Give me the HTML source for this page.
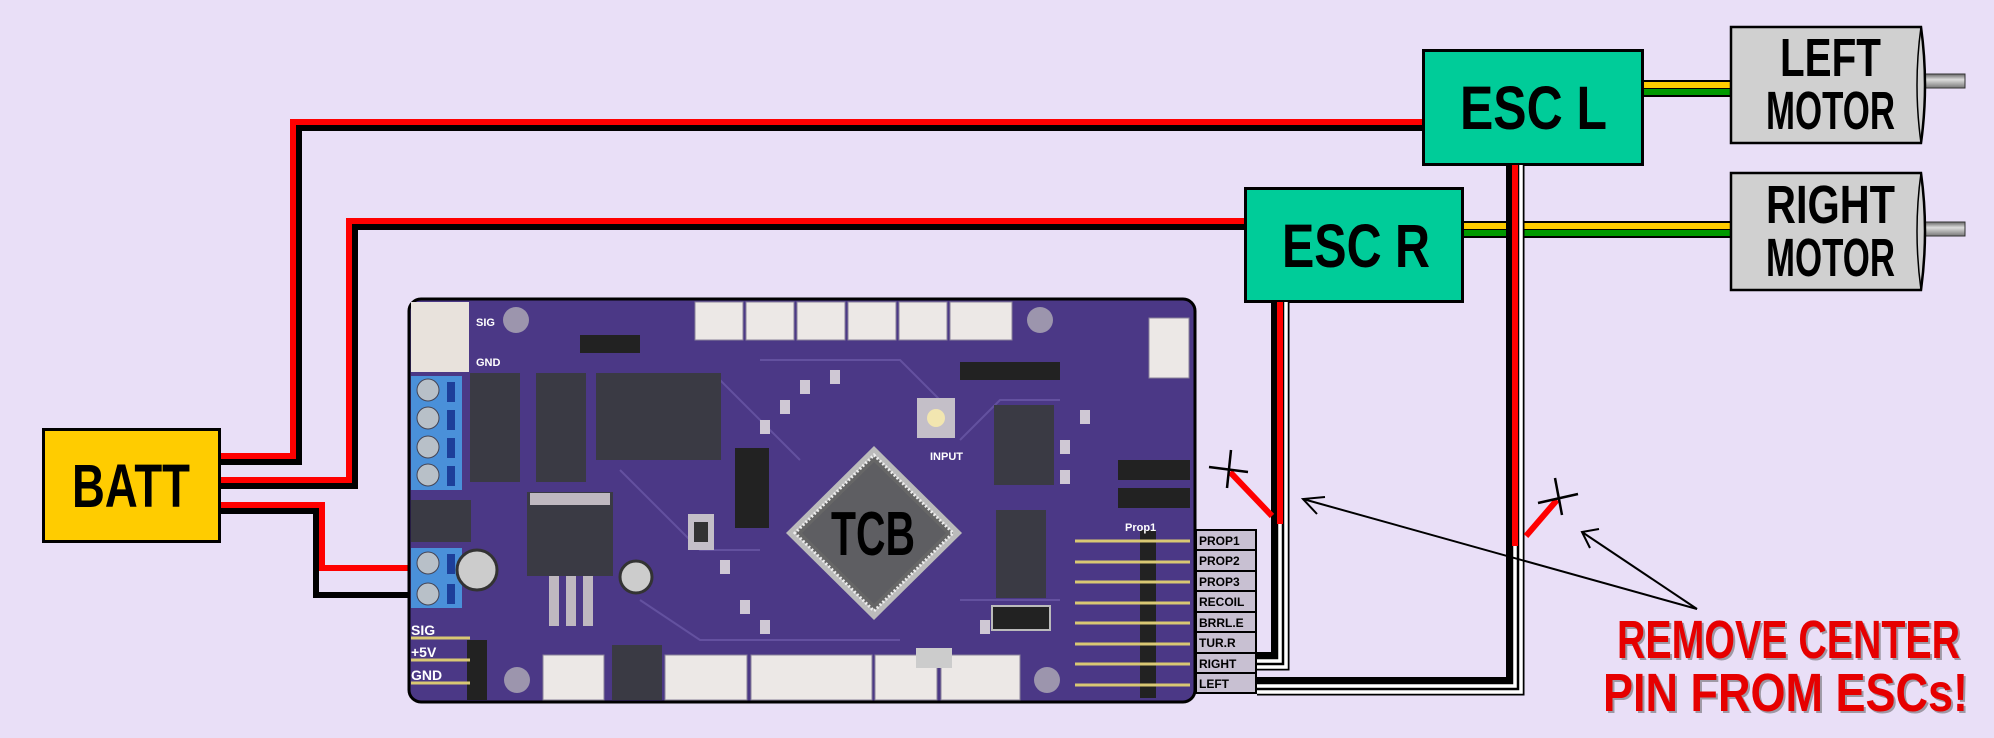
<!DOCTYPE html>
<html><head><meta charset="utf-8"><style>
html,body{margin:0;padding:0;background:#e9dff7;}
svg{display:block;}
text{font-family:"Liberation Sans",sans-serif;font-weight:bold;}
</style></head><body>
<svg width="1994" height="738" viewBox="0 0 1994 738" xmlns="http://www.w3.org/2000/svg">
<rect width="1994" height="738" fill="#e9dff7"/>

<g fill="none" stroke-width="6" stroke-linejoin="miter">
<polyline points="221,456 293,456 293,122 1422,122" stroke="#ff0000"/>
<polyline points="221,462 299,462 299,128 1422,128" stroke="#000"/>
<polyline points="221,480 349,480 349,221 1244,221" stroke="#ff0000"/>
<polyline points="221,486 355,486 355,227 1244,227" stroke="#000"/>
<polyline points="221,505 322,505 322,568 410,568" stroke="#ff0000"/>
<polyline points="221,511 316,511 316,595 410,595" stroke="#000"/>
</g>

<rect x="1643" y="80" width="87" height="17" fill="#000"/>
<rect x="1643" y="82" width="87" height="6" fill="#ffcc00"/>
<rect x="1643" y="89" width="87" height="6" fill="#009900"/>
<rect x="1464" y="221" width="266" height="17" fill="#000"/>
<rect x="1464" y="223" width="266" height="6" fill="#ffcc00"/>
<rect x="1464" y="230" width="266" height="6" fill="#009900"/>

<rect x="43.5" y="429.5" width="176" height="112" fill="#ffcc00" stroke="#000" stroke-width="3"/>
<text x="72" y="507" font-size="61" textLength="118" lengthAdjust="spacingAndGlyphs">BATT</text>

<rect x="1423.5" y="50.5" width="219" height="114" fill="#00cc99" stroke="#000" stroke-width="3"/>
<text x="1460" y="129" font-size="61" textLength="147" lengthAdjust="spacingAndGlyphs">ESC  L</text>
<rect x="1245.5" y="188.5" width="217" height="113" fill="#00cc99" stroke="#000" stroke-width="3"/>
<text x="1282" y="267" font-size="61" textLength="148" lengthAdjust="spacingAndGlyphs">ESC  R</text>

<defs>
<linearGradient id="sh" x1="0" y1="0" x2="0" y2="1">
<stop offset="0" stop-color="#666"/><stop offset="0.4" stop-color="#ddd"/><stop offset="1" stop-color="#777"/>
</linearGradient>
</defs>
<rect x="1924" y="74" width="41" height="14" fill="url(#sh)" stroke="#333" stroke-width="1"/>
<rect x="1924" y="222" width="41" height="14" fill="url(#sh)" stroke="#333" stroke-width="1"/>
<path d="M1731,27 H1921 Q1929,85 1921,143 H1731 Z" fill="#d0d0d0" stroke="#000" stroke-width="2.5"/>
<path d="M1921,27 Q1913,85 1921,143" fill="none" stroke="#000" stroke-width="1.5"/>
<path d="M1731,173 H1921 Q1929,231 1921,290 H1731 Z" fill="#d0d0d0" stroke="#000" stroke-width="2.5"/>
<path d="M1921,173 Q1913,231 1921,290" fill="none" stroke="#000" stroke-width="1.5"/>
<text x="1780" y="76" font-size="54" textLength="101" lengthAdjust="spacingAndGlyphs">LEFT</text>
<text x="1766" y="129" font-size="54" textLength="129" lengthAdjust="spacingAndGlyphs">MOTOR</text>
<text x="1766" y="223" font-size="54" textLength="129" lengthAdjust="spacingAndGlyphs">RIGHT</text>
<text x="1766" y="276" font-size="54" textLength="129" lengthAdjust="spacingAndGlyphs">MOTOR</text>

<!-- TCB board -->
<rect x="409" y="299" width="786" height="403" rx="12" fill="#4b3886" stroke="#000" stroke-width="3"/>
<g fill="none" stroke="#6a58a6" stroke-width="2" opacity="0.8">
<path d="M620,470 L700,550 L760,550"/><path d="M720,380 L800,460"/><path d="M960,440 L1000,400 L1060,400"/>
<path d="M640,600 L700,640 L900,640"/><path d="M960,600 L1060,600"/><path d="M760,360 L900,360 L940,400"/>
</g>
<g fill="#cfc8d4">
<rect x="760" y="420" width="10" height="14"/><rect x="780" y="400" width="10" height="14"/><rect x="800" y="380" width="10" height="14"/><rect x="830" y="370" width="10" height="14"/>
<rect x="720" y="560" width="10" height="14"/><rect x="740" y="600" width="10" height="14"/><rect x="760" y="620" width="10" height="14"/><rect x="980" y="620" width="10" height="14"/>
<rect x="1060" y="440" width="10" height="14"/><rect x="1060" y="470" width="10" height="14"/><rect x="1080" y="410" width="10" height="14"/>
</g>
<rect x="411" y="302" width="58" height="70" fill="#e8e2dc"/>
<rect x="411" y="376" width="51" height="114" fill="#4a90d9"/>
<rect x="411" y="548" width="51" height="60" fill="#4a90d9"/>
<g fill="#b8c0c8" stroke="#445" stroke-width="1">
<circle cx="428" cy="390" r="11"/><circle cx="428" cy="418" r="11"/><circle cx="428" cy="447" r="11"/><circle cx="428" cy="475" r="11"/>
<circle cx="428" cy="563" r="11"/><circle cx="428" cy="594" r="11"/>
</g>
<g fill="#1d3f9a"><rect x="447" y="382" width="8" height="20"/><rect x="447" y="410" width="8" height="20"/><rect x="447" y="438" width="8" height="20"/><rect x="447" y="466" width="8" height="20"/><rect x="447" y="554" width="8" height="20"/><rect x="447" y="584" width="8" height="20"/></g>
<g fill="#9c95ad"><circle cx="516" cy="320" r="13"/><circle cx="1040" cy="320" r="13"/><circle cx="517" cy="680" r="13"/><circle cx="1047" cy="680" r="13"/></g>
<g fill="#3a3a44">
<rect x="470" y="373" width="50" height="28"/><rect x="470" y="400" width="50" height="28"/><rect x="470" y="427" width="50" height="28"/><rect x="470" y="454" width="50" height="28"/>
<rect x="536" y="373" width="50" height="28"/><rect x="536" y="400" width="50" height="28"/><rect x="536" y="427" width="50" height="28"/><rect x="536" y="454" width="50" height="28"/>
<rect x="596" y="373" width="125" height="87"/>
<rect x="411" y="500" width="60" height="42"/>
<rect x="527" y="492" width="86" height="84"/>
<rect x="612" y="645" width="50" height="55"/>
<rect x="996" y="510" width="50" height="88"/>
<rect x="994" y="405" width="60" height="80"/>
</g>
<g fill="#bfb8c0"><rect x="530" y="493" width="80" height="12"/><rect x="549" y="576" width="10" height="50"/><rect x="566" y="576" width="10" height="50"/><rect x="583" y="576" width="10" height="50"/></g>
<circle cx="477" cy="570" r="20" fill="#ccc" stroke="#333" stroke-width="3"/>
<circle cx="636" cy="577" r="16" fill="#ccc" stroke="#333" stroke-width="3"/>
<g fill="#ece8e6" stroke="#8a8299" stroke-width="1">
<rect x="695" y="302" width="48" height="38"/><rect x="746" y="302" width="48" height="38"/><rect x="797" y="302" width="48" height="38"/><rect x="848" y="302" width="48" height="38"/><rect x="899" y="302" width="48" height="38"/><rect x="950" y="302" width="62" height="38"/>
<rect x="543" y="655" width="61" height="45"/><rect x="665" y="655" width="82" height="45"/><rect x="751" y="655" width="121" height="45"/><rect x="875" y="655" width="62" height="45"/><rect x="941" y="655" width="79" height="45"/>
<rect x="1149" y="318" width="40" height="60"/>
</g>
<rect x="917" y="398" width="38" height="40" fill="#c4bfc8"/><circle cx="936" cy="418" r="9" fill="#f2e6b0"/>
<rect x="688" y="514" width="26" height="36" fill="#c4bfc8"/><rect x="694" y="522" width="14" height="20" fill="#333"/>
<rect x="992" y="606" width="58" height="24" fill="#222" stroke="#bbb" stroke-width="2"/>
<rect x="916" y="648" width="36" height="20" fill="#ccc"/>
<g fill="#222"><rect x="735" y="448" width="34" height="80"/><rect x="960" y="362" width="100" height="18"/><rect x="1118" y="460" width="72" height="20"/><rect x="1118" y="488" width="72" height="20"/><rect x="1140" y="530" width="16" height="168"/><rect x="580" y="335" width="60" height="18"/><rect x="467" y="640" width="20" height="60"/></g>
<g stroke="#d9c873" stroke-width="3">
<line x1="1075" y1="541" x2="1190" y2="541"/><line x1="1075" y1="562" x2="1190" y2="562"/><line x1="1075" y1="582" x2="1190" y2="582"/><line x1="1075" y1="603" x2="1190" y2="603"/><line x1="1075" y1="623" x2="1190" y2="623"/><line x1="1075" y1="644" x2="1190" y2="644"/><line x1="1075" y1="664" x2="1190" y2="664"/><line x1="1075" y1="685" x2="1190" y2="685"/>
<line x1="411" y1="638" x2="470" y2="638"/><line x1="411" y1="660" x2="470" y2="660"/><line x1="411" y1="683" x2="470" y2="683"/>
</g>
<g fill="#fff" font-size="14"><text x="411" y="635">SIG</text><text x="411" y="657">+5V</text><text x="411" y="680">GND</text></g>
<g fill="#fff" font-size="11"><text x="476" y="326">SIG</text><text x="476" y="366">GND</text><text x="1125" y="531">Prop1</text><text x="930" y="460">INPUT</text></g>

<polygon points="874,446 962,533 874,620 786,533" fill="#bbb"/>
<polygon points="874,455 953,533 874,611 795,533" fill="#666" stroke="#eee" stroke-width="3" stroke-dasharray="2 2"/>
<polygon points="874,462 946,533 874,604 802,533" fill="#5e5e62"/>
<text x="831" y="555" font-size="62" textLength="84" lengthAdjust="spacingAndGlyphs">TCB</text>

<g stroke="#000" stroke-width="2" fill="#c8c0d2">
<rect x="1196" y="530" width="60" height="20"/><rect x="1196" y="550" width="60" height="21"/><rect x="1196" y="571" width="60" height="20"/><rect x="1196" y="591" width="60" height="21"/><rect x="1196" y="612" width="60" height="20"/><rect x="1196" y="632" width="60" height="21"/><rect x="1196" y="653" width="60" height="20"/><rect x="1196" y="673" width="60" height="20"/>
</g>
<g font-size="12" fill="#000">
<text x="1199" y="545">PROP1</text><text x="1199" y="565">PROP2</text><text x="1199" y="586">PROP3</text><text x="1199" y="606">RECOIL</text><text x="1199" y="627">BRRL.E</text><text x="1199" y="647">TUR.R</text><text x="1199" y="668">RIGHT</text><text x="1199" y="688">LEFT</text>
</g>

<g fill="none" stroke-linejoin="miter">
<polyline points="1286,302 1286,667 1257,667" stroke="#000" stroke-width="7"/>
<polyline points="1286,302 1286,667 1257,667" stroke="#fff" stroke-width="3.5"/>
<polyline points="1280,523 1280,661 1257,661" stroke="#000" stroke-width="7"/>
<polyline points="1280,523 1280,661 1257,661" stroke="#fff" stroke-width="3.5"/>
<line x1="1280" y1="302" x2="1280" y2="524" stroke="#ff0000" stroke-width="6"/>
<polyline points="1274,302 1274,655 1257,655" stroke="#000" stroke-width="6"/>
</g>
<g fill="none" stroke-linejoin="miter">
<polyline points="1521,165 1521,692 1257,692" stroke="#000" stroke-width="7"/>
<polyline points="1521,165 1521,692 1257,692" stroke="#fff" stroke-width="3.5"/>
<polyline points="1515,545 1515,686 1257,686" stroke="#000" stroke-width="7"/>
<polyline points="1515,545 1515,686 1257,686" stroke="#fff" stroke-width="3.5"/>
<line x1="1515" y1="165" x2="1515" y2="546" stroke="#ff0000" stroke-width="6"/>
<polyline points="1509,165 1509,680 1257,680" stroke="#000" stroke-width="6"/>
</g>

<line x1="1272" y1="516" x2="1230" y2="472" stroke="#ff0000" stroke-width="6"/>
<line x1="1209" y1="467" x2="1248" y2="472" stroke="#000" stroke-width="2.5"/>
<line x1="1231" y1="450" x2="1227" y2="488" stroke="#000" stroke-width="2.5"/>
<line x1="1526" y1="536" x2="1557" y2="500" stroke="#ff0000" stroke-width="6"/>
<line x1="1538" y1="503" x2="1578" y2="494" stroke="#000" stroke-width="2.5"/>
<line x1="1555" y1="478" x2="1562" y2="515" stroke="#000" stroke-width="2.5"/>

<g stroke="#000" stroke-width="2" fill="none">
<line x1="1697" y1="609" x2="1303" y2="499"/>
<polyline points="1325,497 1303,499 1317,514"/>
<line x1="1697" y1="609" x2="1582" y2="532"/>
<polyline points="1599,529 1582,532 1590,548"/>
</g>

<g font-size="54">
<text x="1619" y="660" fill="#555" opacity="0.5" textLength="343" lengthAdjust="spacingAndGlyphs">REMOVE  CENTER</text>
<text x="1605" y="713" fill="#555" opacity="0.5" textLength="365" lengthAdjust="spacingAndGlyphs">PIN  FROM  ESCs!</text>
<text x="1617" y="658" fill="#e60000" textLength="343" lengthAdjust="spacingAndGlyphs">REMOVE  CENTER</text>
<text x="1603" y="711" fill="#e60000" textLength="365" lengthAdjust="spacingAndGlyphs">PIN  FROM  ESCs!</text>
</g>
</svg>
</body></html>
